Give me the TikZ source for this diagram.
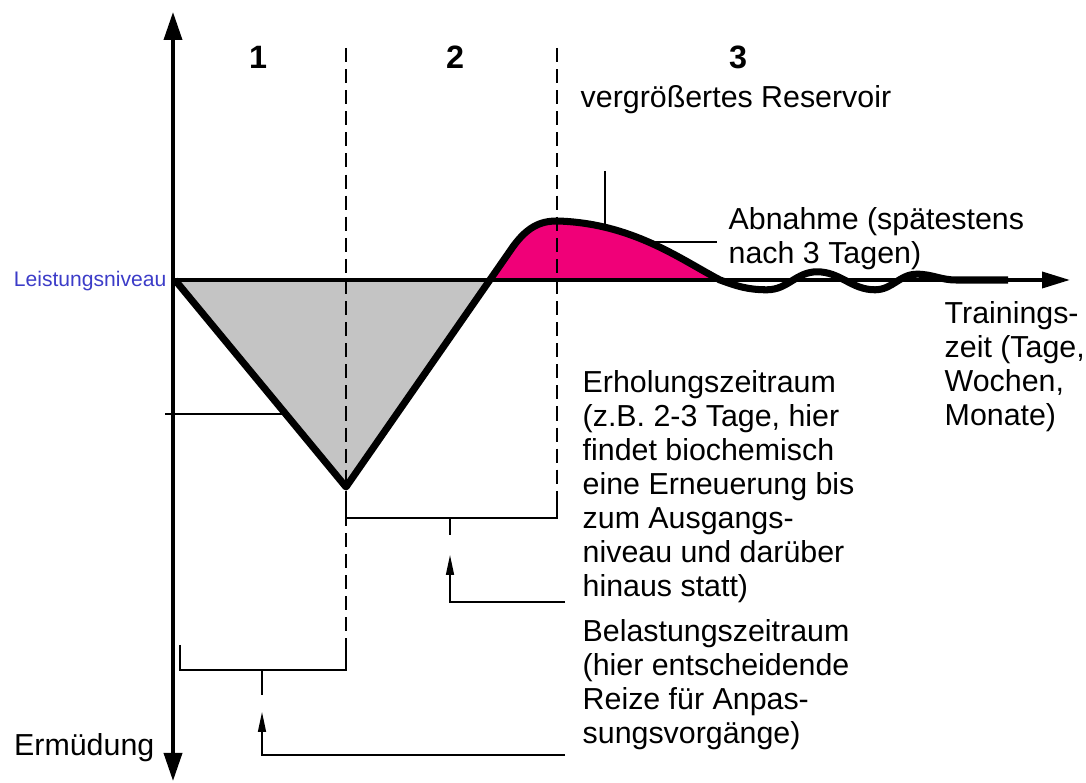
\documentclass[tikz,border=0pt]{standalone}
\usepackage{fontspec}
\setmainfont{Liberation Sans}
\usetikzlibrary{arrows.meta}
\definecolor{cpink}{HTML}{F00078}
\definecolor{cgrey}{HTML}{C4C4C4}
\definecolor{cblue}{HTML}{3C3CC8}
\tikzset{
  every picture/.style={line width=1pt},
  axis/.style={line width=2.6pt},
  curve/.style={line width=5pt, line join=round},
  period/.style={dash pattern=on 10pt off 5pt, line width=1pt},
  bracket/.style={line width=1.1pt},
  pointer/.style={-{Triangle[length=5mm, width=2mm]}, line width=1.1pt},
  label/.style={font=\fontsize{21.6}{24.2}\selectfont, align=left, inner sep=0pt},
  num/.style={font=\fontsize{23}{25}\selectfont\bfseries, inner sep=0pt},
}

\begin{document}
\begin{tikzpicture}
  \useasboundingbox (0,0) rectangle (27.15,19.575);
  % areas under and over the level
  \fill[cgrey] (4.375,12.575) -- (8.65,7.4) -- (12.3,12.575) -- cycle;
  \fill[cpink] (12.3,12.575) -- (12.75,13.3) .. controls (13.15,13.9) and (13.5,14.05) .. (13.925,14.05)
    .. controls (15.8,14.0) and (17.0,13.1) .. (18.0,12.575) -- cycle;
  % axes
  \draw[axis, {Triangle[length=7mm, width=4.5mm]}-{Triangle[length=7mm, width=4.5mm]}] (4.325,19.275) -- (4.325,0.05);
  \draw[axis, -{Triangle[length=7mm, width=4mm]}] (4.325,12.575) -- (26.75,12.575);
  % the three periods
  \draw[period] (8.65,18.375) -- (8.65,2.825);
  \draw[period] (13.925,18.375) -- (13.925,6.625);
  \node[num] (p1) at (6.45,18.15) {1};
  \node[num] (p2) at (11.375,18.15) {2};
  \node[num] (p3) at (18.45,18.15) {3};
  % performance curve
  \draw[curve] (4.375,12.575) -- (8.65,7.4) -- (12.75,13.3)
    .. controls (13.15,13.9) and (13.5,14.05) .. (13.925,14.05)
    .. controls (15.8,14.0) and (17.0,13.1) .. (18.0,12.575)
    to[out=-20, in=180] (19.175,12.33) to[out=0, in=180] (20.425,12.78)
    to[out=0, in=180] (21.875,12.33) to[out=0, in=180] (22.925,12.72)
    to[out=0, in=180] (23.9,12.575) -- (25.2,12.575);
  % labels
  \node[label, anchor=west] (res) at (14.5,17.075) {vergrößertes Reservoir};
  \node[label, anchor=west] (abn) at (18.2,13.6) {Abnahme (spätestens\\ nach 3 Tagen)};
  \node[label, anchor=west] (tz) at (23.6,10.4) {Trainings-\\ zeit (Tage,\\ Wochen,\\ Monate)};
  \node[label, anchor=west] (erh) at (14.55,7.4) {Erholungszeitraum\\ (z.B. 2-3 Tage, hier\\ findet biochemisch\\ eine Erneuerung bis\\ zum Ausgangs-\\ niveau und darüber\\ hinaus statt)};
  \node[label, anchor=west] (bel) at (14.55,2.45) {Belastungszeitraum\\ (hier entscheidende\\ Reize für Anpas-\\ sungsvorgänge)};
  \node[label, anchor=east, text=cblue, font=\fontsize{15}{17}\selectfont] (niv) at (4.175,12.55) {Leistungsniveau};
  \node[label, anchor=east] (erm) at (3.875,0.875) {Ermüdung};
  % pointer lines
  \coordinate (rtop) at (15.125,15.3);
  \coordinate (rcur) at (15.125,13.95);
  \coordinate (acur) at (16.35,13.525);
  \coordinate (aend) at (17.925,13.525);
  \draw (rtop) -- (rcur);
  \draw (acur) -- (aend);
  \coordinate (mid1) at (4.125,9.225);
  \coordinate (mid2) at (7.175,9.225);
  \draw (mid1) -- (mid2);
  % recovery bracket
  \coordinate (eL) at (8.65,7.2);
  \coordinate (eR) at (13.925,7.2);
  \coordinate (eM) at (11.25,6.625);
  \coordinate (eT) at (11.25,6.2);
  \coordinate (eA) at (11.25,5.7);
  \coordinate (eS) at (14.125,4.525);
  \draw[bracket] (eL) |- (eM) -| (eR);
  \draw[bracket] (eM) -- (eT);
  \draw[pointer] (eS) -| (eA);
  % load bracket
  \coordinate (bL) at (4.5,3.45);
  \coordinate (bR) at (8.65,3.45);
  \coordinate (bM) at (6.55,2.825);
  \coordinate (bT) at (6.55,2.2);
  \coordinate (bA) at (6.55,1.775);
  \coordinate (bS) at (14.125,0.7);
  \draw[bracket] (bL) |- (bM) -| (bR);
  \draw[bracket] (bM) -- (bT);
  \draw[pointer] (bS) -| (bA);
\end{tikzpicture}
\end{document}
